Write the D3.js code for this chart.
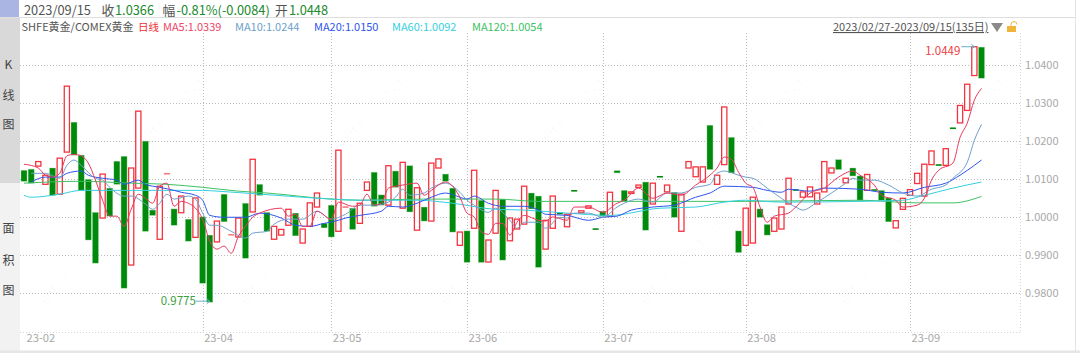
<!DOCTYPE html>
<html><head><meta charset="utf-8">
<script src="https://cdn.jsdelivr.net/npm/d3@7"></script>
<style>html,body{margin:0;padding:0;background:#fff}svg{display:block}text{font-family:"Noto Sans CJK SC","Noto Sans",sans-serif}</style>
</head><body><div id="c"></div>
<script>
const opens=[1.0123,1.0126,1.0134,1.0086,1.0129,1.0060,1.0171,1.0250,1.0163,1.0099,1.0012,0.9997,1.0076,1.0147,1.0160,0.9873,1.0076,1.0200,1.0018,0.9941,1.0114,1.0021,1.0011,0.9994,0.9946,1.0000,0.9952,0.9934,1.0060,0.9953,0.9947,1.0036,1.0013,1.0086,1.0012,0.9941,0.9952,0.9978,1.0010,0.9931,0.9975,1.0026,0.9983,1.0031,0.9962,1.0026,1.0023,0.9983,1.0070,1.0118,1.0058,1.0031,1.0121,1.0023,1.0135,0.9965,1.0026,0.9989,1.0129,1.0113,1.0076,0.9925,0.9963,0.9970,1.0044,0.9881,0.9957,1.0047,0.9937,0.9968,0.9981,1.0063,1.0055,0.9915,0.9970,1.0011,0.9974,1.0071,1.0011,1.0023,0.9970,1.0015,1.0002,1.0122,1.0070,1.0063,1.0078,1.0092,1.0034,1.0108,1.0066,1.0065,0.9962,1.0129,1.0106,1.0092,1.0242,1.0086,1.0138,1.0210,0.9963,0.9925,0.9931,1.0021,0.9980,0.9962,0.9968,1.0034,1.0073,1.0052,1.0053,1.0034,1.0066,1.0116,1.0151,1.0090,1.0129,1.0108,1.0070,1.0073,1.0070,1.0050,0.9971,1.0020,1.0057,1.0088,1.0055,1.0138,1.0139,1.0136,1.0236,1.0248,1.0281,1.0373,1.0448];
const closes=[1.0094,1.0089,1.0146,1.0110,1.0057,1.0155,1.0345,1.0163,1.0070,0.9939,0.9878,1.0113,1.0002,1.0086,0.9812,1.0129,1.0279,0.9962,1.0004,1.0081,1.0116,0.9978,1.0055,0.9936,1.0050,0.9825,0.9775,0.9989,0.9987,0.9955,0.9997,0.9891,1.0152,1.0057,0.9962,0.9975,0.9967,1.0020,0.9950,0.9968,1.0037,1.0063,0.9971,0.9947,1.0176,1.0028,0.9967,1.0036,1.0092,1.0028,1.0031,1.0135,1.0078,1.0144,1.0013,1.0077,0.9989,1.0142,1.0153,1.0094,0.9960,0.9960,0.9880,1.0123,0.9880,0.9939,1.0070,0.9886,0.9997,0.9994,1.0081,1.0021,0.9867,0.9991,1.0055,1.0009,1.0007,1.0069,1.0016,1.0029,0.9968,1.0002,1.0065,1.0116,1.0041,1.0066,1.0084,0.9965,1.0089,1.0106,1.0084,0.9999,1.0060,1.0146,1.0132,1.0132,1.0125,1.0110,1.0290,1.0116,0.9906,1.0023,1.0052,0.9999,0.9952,0.9997,1.0026,1.0102,1.0071,1.0066,1.0079,1.0063,1.0146,1.0129,1.0125,1.0102,1.0108,1.0044,1.0112,1.0071,1.0044,0.9987,0.9990,1.0049,1.0072,1.0115,1.0139,1.0174,1.0137,1.0180,1.0234,1.0294,1.0350,1.0449,1.0366];

const ma5Index=[0,2,3,4,5,6,7,8,9,10,11,12,13,14,15,16,17,18,19,20,21,22,23,24,25,26,27,28,29,30,31,32,33,36,37,38,39,40,41,43,44,46,47,48,49,50,51,53,55,56,57,59,61,62,63,64,65,66,67,68,69,70,72,73,74,76,77,79,81,83,84,86,88,90,92,94,96,97,98,99,100,101,102,103,104,105,107,108,110,112,114,116,117,119,120,122,123,125,126,127,128,130,131,132,133,134];
const ma5Values=[1.0139,1.0129,1.0110,1.0105,1.0115,1.0161,1.0165,1.0161,1.0142,1.0097,1.0044,1.0002,1.0002,0.9975,1.0020,1.0060,1.0049,1.0036,1.0081,1.0089,1.0028,1.0041,1.0036,1.0023,0.9994,0.9936,0.9915,0.9923,0.9904,0.9949,0.9975,0.9999,1.0010,1.0023,1.0002,1.0007,0.9975,0.9975,1.0015,0.9994,1.0039,1.0028,1.0031,1.0060,1.0031,1.0036,1.0076,1.0084,1.0089,1.0057,1.0070,1.0092,1.0052,1.0010,1.0000,0.9960,0.9954,0.9983,0.9983,0.9952,0.9986,1.0004,0.9991,0.9989,1.0000,0.9991,1.0026,1.0026,1.0012,1.0036,1.0044,1.0076,1.0049,1.0063,1.0057,1.0084,1.0110,1.0129,1.0158,1.0152,1.0118,1.0089,1.0078,1.0026,0.9986,1.0002,1.0010,1.0026,1.0063,1.0076,1.0105,1.0121,1.0110,1.0084,1.0057,1.0044,1.0026,1.0031,1.0049,1.0097,1.0123,1.0142,1.0210,1.0247,1.0308,1.0339];

const ma10Index=[1,3,5,6,7,8,10,11,12,14,15,17,18,19,20,21,23,24,25,26,27,29,31,32,34,35,37,39,41,43,45,47,49,51,52,53,54,56,57,59,61,62,63,65,66,68,69,70,72,73,75,76,77,79,81,83,84,86,88,90,92,94,96,97,98,100,101,102,104,106,108,109,111,113,115,116,117,119,121,123,125,127,129,130,132,133,134];
const ma10Values=[1.0115,1.0115,1.0102,1.0136,1.0150,1.0136,1.0102,1.0097,1.0078,1.0055,1.0055,1.0034,1.0020,1.0036,1.0060,1.0047,1.0055,1.0047,1.0010,0.9978,0.9978,0.9962,0.9944,0.9957,0.9962,0.9981,0.9994,0.9994,1.0015,0.9994,1.0007,1.0031,1.0031,1.0039,1.0052,1.0073,1.0057,1.0063,1.0076,1.0089,1.0065,1.0044,1.0031,1.0012,1.0023,0.9991,0.9970,0.9986,0.9986,0.9970,0.9999,0.9997,1.0010,1.0010,0.9999,1.0026,1.0036,1.0047,1.0039,1.0063,1.0063,1.0078,1.0086,1.0115,1.0121,1.0110,1.0105,1.0102,1.0076,1.0049,1.0026,1.0018,1.0039,1.0063,1.0089,1.0102,1.0097,1.0097,1.0084,1.0063,1.0055,1.0073,1.0084,1.0102,1.0144,1.0202,1.0244];

const ma20Index=[1,3,5,6,8,9,11,13,14,16,17,19,21,22,24,25,26,28,31,33,36,38,40,42,44,45,47,50,51,53,55,57,59,61,62,63,65,67,70,72,73,76,79,81,83,85,88,91,94,96,98,102,104,106,107,110,112,117,120,123,126,129,131,133,134];
const ma20Values=[1.0092,1.0105,1.0105,1.0115,1.0121,1.0110,1.0102,1.0097,1.0086,1.0097,1.0086,1.0078,1.0070,1.0065,1.0057,1.0044,1.0004,0.9999,0.9999,1.0010,0.9997,0.9978,0.9975,0.9983,0.9991,0.9997,1.0004,1.0015,1.0028,1.0026,1.0036,1.0052,1.0063,1.0052,1.0047,1.0055,1.0036,1.0028,1.0028,1.0018,1.0007,1.0004,0.9991,0.9999,1.0002,1.0018,1.0026,1.0031,1.0052,1.0063,1.0081,1.0078,1.0070,1.0065,1.0073,1.0068,1.0076,1.0073,1.0065,1.0063,1.0078,1.0089,1.0110,1.0136,1.0150];

const ma60Index=[0,1,5,8,15,20,25,27,33,39,43,47,55,60,66,70,76,82,89,94,98,101,106,117,123,126,130,134];
const ma60Values=[1.0057,1.0052,1.0060,1.0070,1.0070,1.0070,1.0070,1.0068,1.0060,1.0052,1.0047,1.0044,1.0044,1.0036,1.0020,1.0018,1.0010,1.0004,1.0023,1.0026,1.0039,1.0044,1.0039,1.0041,1.0044,1.0057,1.0076,1.0092];

const ma120Index=[0,8,15,20,25,30,34,43,47,56,66,72,101,117,125,130,134];
const ma120Values=[1.0089,1.0094,1.0089,1.0086,1.0078,1.0068,1.0063,1.0047,1.0044,1.0047,1.0047,1.0041,1.0041,1.0044,1.0037,1.0037,1.0054];

const priceTicks=[1.04,1.03,1.02,1.01,1.00,0.99,0.98];
const monthIndex=[0,25,43,62,81,101,124];
const monthLabels=["23-02","23-04","23-05","23-06","23-07","23-08","23-09"];
const sideTop=["K","线","图"];
const sideBottom=["面","积","图"];
const maLegend=[["MA5:1.0339","#ef4468",163],["MA10:1.0244","#6e9fcb",235],["MA20:1.0150","#2f55ee",314],["MA60:1.0092","#35cfe0",392],["MA120:1.0054","#3cc262",472]];
const waterText="yuhf B0:7B:25:18:1B";

const W=1080,H=353;
const x=d3.scaleLinear().domain([0,134]).range([24,981.5]);
const y=d3.scaleLinear().domain([0.98,1.04]).range([292.7,65.3]);
const svg=d3.select("#c").append("svg").attr("width",W).attr("height",H);
svg.append("rect").attr("width",W).attr("height",H).attr("fill","#fff");

// chrome
svg.append("rect").attr("x",0).attr("y",18).attr("width",20).attr("height",165).attr("fill","#d9d9d9");
svg.append("rect").attr("x",0).attr("y",183).attr("width",20).attr("height",168).attr("fill","#f2f2f2");
svg.append("rect").attr("x",0).attr("y",0).attr("width",19).attr("height",17).attr("fill","#aab5e3");
svg.append("line").attr("x1",0).attr("x2",1075).attr("y1",17.5).attr("y2",17.5).attr("stroke","#dedede");
svg.append("line").attr("x1",1075.5).attr("x2",1075.5).attr("y1",0).attr("y2",351).attr("stroke","#e4e4e4");
svg.append("rect").attr("x",0).attr("y",350.5).attr("width",W).attr("height",3).attr("fill","#e6e6e6");

// watermark
const wm=svg.append("g").attr("fill","#000").attr("fill-opacity",0.03).attr("font-size",13);
d3.range(0,5).forEach(k=>{[[150,100],[310,0]].forEach(([b,o])=>{
  wm.append("text").attr("transform",`translate(${40+k*200+o},${b}) rotate(-45)`).text(waterText);
});});

// grid
const grid=svg.append("g").attr("stroke","#bdbdbd").attr("stroke-dasharray","1,2");
grid.selectAll("line.h").data(priceTicks).join("line").attr("class","h")
  .attr("x1",20).attr("x2",1020).attr("y1",d=>Math.round(y(d))+.5).attr("y2",d=>Math.round(y(d))+.5);
grid.selectAll("line.v").data(monthIndex.slice(1)).join("line").attr("class","v")
  .attr("x1",d=>Math.round(x(d))+.5).attr("x2",d=>Math.round(x(d))+.5).attr("y1",33).attr("y2",332);
grid.append("line").attr("x1",1020.5).attr("x2",1020.5).attr("y1",33).attr("y2",332).attr("stroke","#d5d5d5");
grid.append("line").attr("x1",20).attr("x2",1020).attr("y1",332.5).attr("y2",332.5).attr("stroke","#d5d5d5");

// axes
const ay=svg.append("g").attr("transform","translate(1020,0)")
  .call(d3.axisRight(y).tickValues(priceTicks).tickFormat(d3.format(".4f")).tickSize(0).tickPadding(5));
ay.select(".domain").remove();
ay.selectAll("text").attr("fill","#a9a9a9").attr("font-size",11).style("font-family",'"Noto Sans CJK SC"');
const ax=svg.append("g").attr("transform","translate(0,332)")
  .call(d3.axisBottom(x).tickValues(monthIndex).tickFormat((d,i)=>monthLabels[i]).tickSize(0).tickPadding(2));
ax.select(".domain").remove();
ax.selectAll("text").attr("fill","#a9a9a9").attr("font-size",11.2).attr("text-anchor","start").attr("dx",(d,i)=>i==0?2:1).style("font-family",'"Noto Sans CJK SC"');

// candles
const up=i=>closes[i]>=opens[i];
const dash=i=>Math.abs(opens[i]-closes[i])<0.00025;
const idx=d3.range(opens.length);
const RED="#f5333f",GREEN="#008a0c";
svg.append("g").selectAll("rect").data(idx).join("rect")
  .attr("x",i=>x(i)-((up(i)&&!dash(i))?2.6:3)).attr("width",i=>(up(i)&&!dash(i))?5.2:6)
  .attr("y",i=>y(Math.max(opens[i],closes[i])))
  .attr("height",i=>Math.max(1.6,Math.abs(y(opens[i])-y(closes[i]))))
  .attr("fill",i=>dash(i)?(up(i)?"#f77a80":GREEN):(up(i)?"#fff":GREEN))
  .attr("stroke",i=>dash(i)?"none":(up(i)?RED:"#9ad49a")).attr("stroke-width",i=>up(i)?1.3:0.4);

// moving averages
const line=d3.line().x(d=>x(d[0])).y(d=>y(d[1])).curve(d3.curveMonotoneX);
const maSeries=[[ma120Index,ma120Values,"#3cc262"],[ma60Index,ma60Values,"#35cfe0"],[ma20Index,ma20Values,"#2f55ee"],[ma10Index,ma10Values,"#6e9fcb"],[ma5Index,ma5Values,"#e83a60"]];
svg.append("g").attr("fill","none").selectAll("path").data(maSeries).join("path")
  .attr("d",s=>line(s[0].map((v,i)=>[v,s[1][i]])))
  .attr("stroke",s=>s[2]).attr("stroke-width",1);

// header text
const T=(t,px,py,fs,c,extra)=>{const e=svg.append("text").attr("x",px).attr("y",py).attr("font-size",fs).attr("fill",c).text(t);if(extra)extra(e);return e;};
const GR="#218a2e",DK="#555";
T("2023/09/15",24,15,12.8,DK);
T("收",101.5,15,12.8,DK);T("1.0366",115,15,12.8,GR);
T("幅",162.5,15,12.8,DK);T("-0.81%(-0.0084)",176.5,15,12.8,GR);
T("开",275,15,12.8,DK);T("1.0448",289,15,12.8,GR);
T("SHFE黄金/COMEX黄金",21.5,31,11,DK);
T("日线",138,31,10.5,"#f03030");
maLegend.forEach(m=>T(m[0],m[2],31,11,m[1]));
T("2023/02/27-2023/09/15(135日)",833,31,11,DK,e=>e.attr("text-decoration","underline"));
svg.append("path").attr("d",d3.line()([[991,23],[1003,23],[997,32]])+"Z").attr("fill","#8a8a8a");
svg.append("rect").attr("x",1007).attr("y",26).attr("width",9).attr("height",6).attr("fill","#f0b43a");
svg.append("path").attr("d","M1011,26 v-1.5 a3,3 0 0 1 6,0").attr("fill","none").attr("stroke","#f0b43a").attr("stroke-width",1);

// side labels
sideTop.forEach((t,i)=>T(t,8.5,[69,100,129][i],12,"#444",e=>e.attr("text-anchor","middle")));
sideBottom.forEach((t,i)=>T(t,8.5,[233,265,295][i],12,"#444",e=>e.attr("text-anchor","middle")));

// extreme labels
const hiI=133,loI=26;
T(d3.format(".4f")(closes[hiI]),x(hiI)-14,55,11.5,"#ee4040",e=>e.attr("text-anchor","end"));
T(d3.format(".4f")(closes[loI]),x(loI)-14,305,11.5,"#3aa040",e=>e.attr("text-anchor","end"));
const arrow=(x0,x1,py)=>svg.append("path").attr("d",`M${x0},${py}H${x1}m-3,-2.5l3,2.5l-3,2.5`).attr("fill","none").attr("stroke","#66b0c8").attr("stroke-width",1);
arrow(x(hiI)-13,x(hiI),y(closes[hiI]));
arrow(x(loI)-14,x(loI),y(closes[loI])-1);
</script></body></html>
